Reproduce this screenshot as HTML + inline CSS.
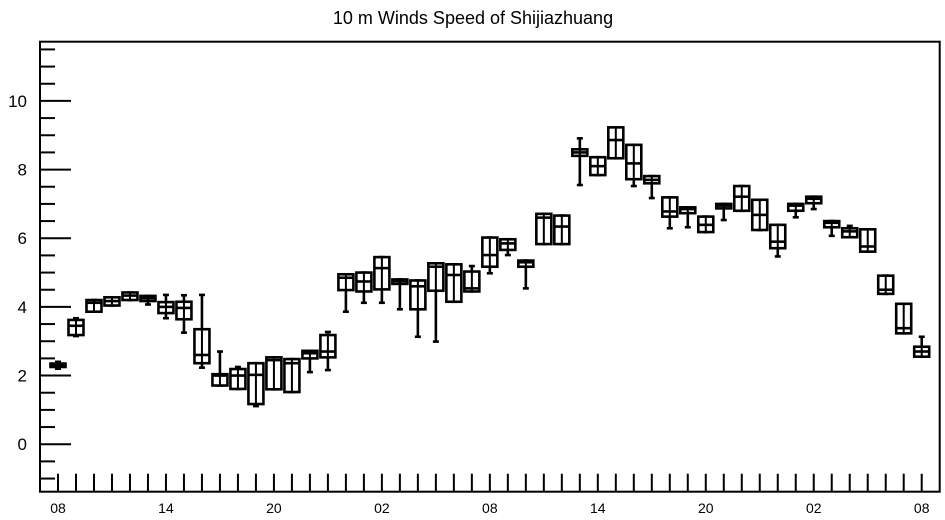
<!DOCTYPE html>
<html><head><meta charset="utf-8">
<style>
html,body{margin:0;padding:0;background:#fff;}
svg{display:block;font-family:"Liberation Sans",sans-serif;}
</style></head>
<body>
<svg id="chart" width="945" height="520" viewBox="0 0 945 520" xmlns="http://www.w3.org/2000/svg">
<text x="473" y="24" font-size="18" text-anchor="middle" fill="#000">10 m Winds Speed of Shijiazhuang</text>
<g id="marks"></g>
<g id="axes"></g>
</svg>
<script>
const mins = [2.2,3.15,3.86,4.04,4.2,4.07,3.67,3.25,2.23,1.71,1.61,1.11,1.6,1.52,2.1,2.16,3.86,4.12,4.12,3.93,3.13,2.99,4.15,4.45,4.98,5.51,4.54,5.83,5.83,7.55,7.84,8.33,7.52,7.17,6.29,6.32,6.18,6.53,6.8,6.24,5.47,6.61,6.85,6.07,6.03,5.61,4.38,3.23,2.55];
const q1s = [2.25,3.18,3.86,4.04,4.2,4.17,3.82,3.64,2.36,1.71,1.61,1.17,1.6,1.52,2.5,2.53,4.49,4.45,4.51,4.67,3.93,4.47,4.15,4.45,5.17,5.66,5.17,5.83,5.83,8.4,7.84,8.33,7.72,7.6,6.63,6.73,6.18,6.87,6.8,6.24,5.71,6.8,7.02,6.32,6.03,5.61,4.38,3.23,2.55];
const medians = [2.3,3.45,4.12,4.17,4.33,4.25,4.0,3.97,2.6,2.0,2.0,2.02,2.45,2.36,2.65,2.7,4.85,4.74,5.13,4.75,4.6,5.17,4.93,4.54,5.51,5.85,5.3,6.6,6.34,8.5,8.1,8.86,8.18,7.7,6.78,6.85,6.39,6.95,7.21,6.68,5.9,6.95,7.15,6.45,6.2,5.76,4.5,3.38,2.7];
const q3s = [2.35,3.62,4.2,4.28,4.42,4.32,4.14,4.15,3.35,2.04,2.19,2.36,2.53,2.48,2.72,3.18,4.95,5.0,5.45,4.8,4.77,5.27,5.24,5.03,6.02,5.97,5.35,6.71,6.66,8.59,8.36,9.23,8.72,7.81,7.19,6.9,6.63,7.0,7.52,7.12,6.39,7.0,7.21,6.5,6.29,6.26,4.91,4.09,2.84];
const maxs = [2.4,3.67,4.2,4.28,4.42,4.32,4.35,4.34,4.35,2.7,2.25,2.36,2.53,2.48,2.72,3.27,4.95,5.0,5.45,4.8,4.77,5.27,5.24,5.19,6.02,5.97,5.35,6.71,6.66,8.91,8.36,9.23,8.72,7.81,7.19,6.9,6.63,7.0,7.52,7.12,6.39,7.0,7.21,6.5,6.36,6.26,4.91,4.09,3.13];
const yTicks = [0,2,4,6,8,10];
const xTickLabels = ["08","14","20","02","08","14","20","02","08"];

const NS="http://www.w3.org/2000/svg";
const L=40,R=939.7,T=41.7,B=491.7;
const xMin=-1,xMax=49,yMin=-1.383,yMax=11.725;
function xs(i){return L+(i-xMin)/(xMax-xMin)*(R-L);}
function ys(v){return B-(v-yMin)/(yMax-yMin)*(B-T);}
function mk(tag,attrs,parent){const e=document.createElementNS(NS,tag);for(const k in attrs)e.setAttribute(k,attrs[k]);parent.appendChild(e);return e;}
const marks=document.getElementById('marks');
const axes=document.getElementById('axes');
const sw=2.6,hw=7.5,cw=3;
for(let i=0;i<medians.length;i++){
  const g=mk('g',{},marks);
  
  
  const x=xs(i);
  const st={stroke:'#000','stroke-width':sw,fill:'none'};
  const w1=mk('line',Object.assign({x1:x,x2:x,y1:ys(q3s[i]),y2:ys(maxs[i])},st),g);
  
  
  const w2=mk('line',Object.assign({x1:x,x2:x,y1:ys(q1s[i]),y2:ys(mins[i])},st),g);
  
  
  mk('line',Object.assign({x1:x-cw,x2:x+cw,y1:ys(maxs[i]),y2:ys(maxs[i])},st),g);
  mk('line',Object.assign({x1:x-cw,x2:x+cw,y1:ys(mins[i]),y2:ys(mins[i])},st),g);
  const h=Math.max(ys(q1s[i])-ys(q3s[i]),1);
  const r=mk('rect',Object.assign({x:x-hw,y:ys(q3s[i]),width:2*hw,height:h,fill:'#fff'},{stroke:'#000','stroke-width':sw}),g);
  
  
  const m=mk('line',Object.assign({x1:x-hw,x2:x+hw,y1:ys(medians[i]),y2:ys(medians[i])},st),g);
  
  
  const v=mk('line',Object.assign({x1:x,x2:x,y1:ys(q3s[i]),y2:ys(q1s[i])},{stroke:'#000','stroke-width':2}),g);
}
// frame
const fr=mk('rect',{x:L,y:T,width:R-L,height:B-T,fill:'none',stroke:'#000','stroke-width':2},axes);


// y minor ticks
for(let v=-1;v<=11.5;v+=0.5){
  const major=Math.abs(v-Math.round(v/2)*2)<1e-9;
  const t=mk('line',{x1:L,x2:L+(major?31:15),y1:ys(v),y2:ys(v),stroke:'#000','stroke-width':2},axes);
  
  
}
yTicks.forEach(v=>{
  const t=mk('text',{x:L-13,y:ys(v)+6,'font-size':17,'text-anchor':'end',fill:'#000'},axes);
  t.textContent=String(v);
  
  
});
for(let i=0;i<=48;i++){
  const t=mk('line',{x1:xs(i),x2:xs(i),y1:B,y2:B-18,stroke:'#000','stroke-width':2},axes);
  
  
}
xTickLabels.forEach((s,k)=>{
  const t=mk('text',{x:xs(k*6),y:513,'font-size':14,'text-anchor':'middle',fill:'#000'},axes);
  t.textContent=s;
  
  
});
</script>
</body></html>
